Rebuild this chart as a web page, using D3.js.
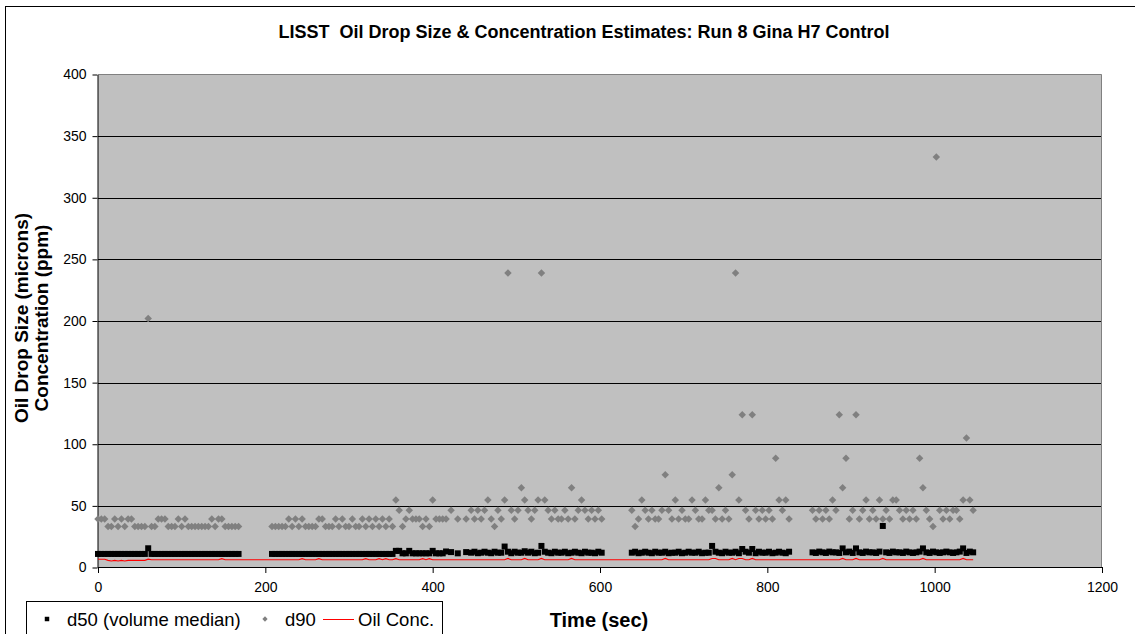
<!DOCTYPE html>
<html>
<head>
<meta charset="utf-8">
<script src="https://cdn.jsdelivr.net/npm/d3@7"></script>
<style>
  body { margin: 0; background: #fff; }
  svg { display: block; font-family: Arial, "Liberation Sans", sans-serif; }
</style>
</head>
<body>
<div id="chart"></div>
<script>
const TITLE = "LISST  Oil Drop Size & Concentration Estimates: Run 8 Gina H7 Control";
const Y_TITLE = ["Oil Drop Size (microns)", "Concentration (ppm)"];
const X_TITLE = "Time (sec)";
const SERIES = ["d50 (volume median)", "d90", "Oil Conc."];

const xTicks = [0, 200, 400, 600, 800, 1000, 1200];
const yTicks = [0, 50, 100, 150, 200, 250, 300, 350, 400];

// sample times (sec), four runs with gaps between them
const time = [
  0, 4, 8, 12, 16, 20, 24, 28, 32, 36, 40, 44, 48, 52, 56, 60, 64, 68, 72, 76, 80, 84,
  88, 92, 96, 100, 104, 108, 112, 116, 120, 124, 128, 132, 136, 140, 144, 148, 152, 156, 160, 164, 168,
  208, 212, 216, 220, 224, 228, 232, 236, 240, 244, 248, 252, 256, 260, 264, 268, 272, 276, 280, 284,
  288, 292, 296, 300, 304, 308, 312, 316, 320, 324, 328, 332, 336, 340, 344, 348, 352, 356, 360, 364,
  368, 372, 376, 380, 384, 388, 392, 396, 400, 404, 408, 412,
  416, 422, 430, 440,
  446, 450, 454, 458, 462, 466, 470, 474, 478, 482, 486, 490, 494, 498, 502, 506, 510, 514, 518, 522,
  526, 530, 534, 538, 542, 546, 550, 554, 558, 562, 566, 570, 574, 578, 582, 586, 590, 594, 598, 602,
  638, 642, 646, 650, 654, 658, 662, 666, 670, 674, 678, 682, 686, 690, 694, 698, 702, 706, 710, 714,
  718, 722, 726, 730, 734, 738, 742, 746, 750, 754, 758, 762, 766, 770, 774, 778, 782, 786, 790, 794,
  798, 802, 806, 810, 814, 818, 822, 826,
  854, 858, 862, 866, 870, 874, 878, 882, 886, 890, 894, 898, 902, 906, 910, 914, 918, 922, 926, 930,
  934, 938, 942, 946, 950, 954, 958, 962, 966, 970, 974, 978, 982, 986, 990, 994, 998, 1002, 1006, 1010,
  1014, 1018, 1022, 1026, 1030, 1034, 1038, 1042, 1046
];

const d50 = [
  11, 11, 11, 11, 11, 11, 11, 11, 11, 11, 11, 11, 11, 11, 11, 15.6, 11, 11, 11, 11, 11, 11,
  11, 11, 11, 11, 11, 11, 11, 11, 11, 11, 11, 11, 11, 11, 11, 11, 11, 11, 11, 11, 11,
  11, 11, 11, 11, 11, 11, 11, 11, 11, 11, 11, 11, 11, 11, 11, 11, 11, 11, 11, 11,
  11, 11, 11, 11, 11, 11, 11, 11, 11, 11, 11, 11, 11, 11, 11, 11, 11, 13.5, 13.5, 11.5,
  11.5, 13.5, 11.5, 11.5, 11.5, 11.5, 11.5, 11.5, 13.5, 11.5, 11.5, 11.5,
  13, 12.5, 11.5, 12.5,
  12, 12.8, 11.6, 12, 12.8, 12, 11.6, 12.8, 12, 12, 17, 12.8, 11.6, 12.8, 12, 12, 13.2, 12, 12.8, 11.6,
  12, 17.5, 12.8, 12, 11.6, 12.8, 12, 12, 12.8, 11.6, 12, 12.8, 12, 11.6, 12.8, 12, 12, 11.6, 12.8, 12,
  12, 12.8, 11.6, 12, 12.8, 12, 11.6, 12.8, 12, 12, 12.8, 11.6, 12, 12, 12.8, 11.6, 12, 12.8, 12, 12,
  12.8, 11.6, 12, 12, 17.5, 12.8, 12, 11.6, 12.8, 12, 12, 12.8, 11.6, 15, 12.8, 12, 15, 11.6, 12.8, 12,
  12, 12.8, 11.6, 12, 12.8, 12, 11.6, 12.8,
  12.3, 11.8, 12.9, 12.3, 11.8, 12.9, 12.3, 12.3, 11.8, 15.5, 12.3, 12.9, 11.8, 15.5, 12.3, 11.8, 12.9, 12.3, 12.3, 11.8,
  12.9, 33.7, 12.3, 11.8, 12.9, 12.3, 12.3, 11.8, 12.9, 12.3, 11.8, 12.3, 12.9, 15.5, 12.3, 11.8, 12.9, 12.3, 11.8, 12.3,
  12.9, 12.3, 11.8, 12.3, 12.9, 15.5, 11.8, 12.9, 12.3
];

const d90 = [
  39.3, 39.3, 39.3, 33.3, 33.3, 39.3, 33.3, 39.3, 33.3, 39.3, 39.3, 33.3, 33.3, 33.3, 33.3, 202, 33.3, 33.3, 39.3, 39.3, 39.3, 33.3,
  33.3, 33.3, 39.3, 33.3, 39.3, 33.3, 33.3, 33.3, 33.3, 33.3, 33.3, 33.3, 39.3, 33.3, 39.3, 39.3, 33.3, 33.3, 33.3, 33.3, 33.3,
  33.3, 33.3, 33.3, 33.3, 33.3, 39.3, 33.3, 39.3, 33.3, 39.3, 33.3, 33.3, 33.3, 33.3, 39.3, 39.3, 33.3, 33.3, 33.3, 39.3,
  33.3, 39.3, 33.3, 33.3, 39.3, 33.3, 33.3, 39.3, 33.3, 39.3, 33.3, 39.3, 33.3, 39.3, 33.3, 39.3, 33.3, 54.8, 46.4, 33.3,
  39.3, 46.4, 39.3, 39.3, 39.3, 33.3, 39.3, 33.3, 54.8, 39.3, 39.3, 39.3,
  39.3, 46.4, 39.3, 39.3,
  46.4, 39.3, 46.4, 39.3, 46.4, 54.8, 39.3, 33.3, 46.4, 39.3, 54.8, 239, 46.4, 39.3, 46.4, 64.7, 54.8, 46.4, 39.3, 46.4,
  54.8, 239, 54.8, 46.4, 39.3, 46.4, 39.3, 39.3, 46.4, 39.3, 64.7, 39.3, 46.4, 54.8, 46.4, 39.3, 46.4, 39.3, 46.4, 39.3,
  46.4, 33.3, 39.3, 54.8, 46.4, 39.3, 46.4, 39.3, 39.3, 46.4, 75.3, 46.4, 39.3, 54.8, 39.3, 46.4, 39.3, 39.3, 54.8, 46.4,
  39.3, 39.3, 54.8, 46.4, 46.4, 39.3, 64.7, 39.3, 46.4, 39.3, 75.3, 239, 54.8, 124, 46.4, 39.3, 124, 46.4, 39.3, 46.4,
  39.3, 46.4, 39.3, 88.6, 54.8, 46.4, 54.8, 39.3,
  46.4, 39.3, 46.4, 39.3, 46.4, 39.3, 54.8, 46.4, 124, 64.7, 88.6, 39.3, 46.4, 124, 39.3, 46.4, 54.8, 39.3, 46.4, 39.3,
  54.8, 39.3, 46.4, 39.3, 54.8, 54.8, 46.4, 39.3, 46.4, 39.3, 46.4, 39.3, 88.6, 64.7, 46.4, 39.3, 33.3, 333, 46.4, 39.3,
  46.4, 39.3, 46.4, 46.4, 39.3, 54.8, 105, 54.8, 46.4
];

const oil = [
  6.7, 6.7, 6.7, 5.8, 5.3, 5.8, 5.3, 5.8, 5.3, 5.8, 5.8, 5.8, 5.8, 5.8, 5.8, 6.8, 6.3, 6.3, 6.3, 6.3, 6.3, 6.3,
  6.3, 6.3, 6.3, 6.3, 6.3, 6.3, 6.3, 6.3, 6.3, 6.3, 6.3, 6.3, 6.3, 6.3, 6.3, 7.2, 6.3, 6.3, 6.3, 6.3, 6.3,
  6.3, 6.3, 6.3, 6.3, 6.3, 6.3, 6.3, 6.3, 6.3, 7.2, 6.3, 6.3, 6.3, 6.3, 7.2, 6.3, 6.3, 6.3, 6.3, 6.3,
  6.3, 6.3, 6.3, 6.3, 6.3, 6.3, 6.3, 6.3, 7.2, 6.3, 6.3, 6.3, 7.2, 6.3, 7.2, 6.3, 6.3, 7.2, 6.3, 6.3,
  6.3, 6.3, 6.3, 6.3, 6.3, 7.2, 6.3, 7.2, 6.3, 6.3, 6.3, 6.3,
  6.3, 6.3, 6.3, 6.3,
  6.3, 6.3, 6.3, 6.3, 6.3, 6.3, 6.3, 6.3, 6.3, 6.3, 6.3, 7.3, 6.3, 6.3, 6.3, 6.3, 7.3, 6.3, 6.3, 6.3,
  6.3, 7.3, 6.3, 6.3, 6.3, 6.3, 6.3, 6.3, 6.3, 6.3, 7.3, 6.3, 6.3, 6.3, 6.3, 6.3, 6.3, 6.3, 6.3, 6.3,
  6.3, 6.3, 6.3, 6.3, 6.3, 6.3, 6.3, 6.3, 6.3, 6.3, 7.3, 6.3, 6.3, 6.3, 6.3, 6.3, 6.3, 6.3, 6.3, 6.3,
  6.3, 6.3, 6.3, 6.3, 7.3, 7.3, 6.3, 6.3, 6.3, 6.3, 7.3, 6.3, 7.3, 7.3, 6.3, 6.3, 7.3, 6.3, 6.3, 6.3,
  6.3, 6.3, 6.3, 6.3, 6.3, 6.3, 6.3, 6.3,
  6.3, 6.3, 6.3, 6.3, 6.3, 6.3, 6.3, 6.3, 6.3, 7.3, 6.3, 6.3, 6.3, 7.3, 6.3, 6.3, 6.3, 6.3, 6.3, 6.3,
  6.3, 7.3, 6.3, 6.3, 6.3, 6.3, 6.3, 6.3, 6.3, 6.3, 6.3, 6.3, 6.3, 7.3, 6.3, 6.3, 6.3, 6.3, 6.3, 6.3,
  6.3, 6.3, 6.3, 6.3, 6.3, 7.3, 6.3, 6.3, 6.3
];

const WIDTH = 1135;
const HEIGHT = 634;
const PLOT = { LEFT: 98, RIGHT: 1102, TOP: 74.5, BOTTOM: 567.5 };
const FONT = "Arial, 'Liberation Sans', sans-serif";

const points = time.map((t, i) => ({ t: t, d50: d50[i], d90: d90[i], oil: oil[i] }));

const svg = d3.select("#chart")
  .append("svg")
  .attr("width", WIDTH)
  .attr("height", HEIGHT)
  .style("background-color", "white");

const x = d3.scaleLinear().domain([0, 1200]).range([PLOT.LEFT, PLOT.RIGHT]);
const y = d3.scaleLinear().domain([0, 400]).range([PLOT.BOTTOM, PLOT.TOP]);

// chart frame (runs off the bottom/right of the picture)
svg.append("rect")
  .attr("x", 5.5).attr("y", 6.5)
  .attr("width", 1160).attr("height", 660)
  .attr("fill", "white")
  .attr("stroke", "#000");

svg.append("text")
  .attr("x", 584)
  .attr("y", 38)
  .attr("text-anchor", "middle")
  .style("white-space", "pre")
  .style("font-family", FONT)
  .style("font-size", "18px")
  .style("font-weight", 700)
  .text(TITLE);

// plot area
svg.append("rect")
  .attr("x", PLOT.LEFT).attr("y", PLOT.TOP)
  .attr("width", PLOT.RIGHT - PLOT.LEFT)
  .attr("height", PLOT.BOTTOM - PLOT.TOP)
  .attr("fill", "#c0c0c0");

svg.append("g").selectAll("line")
  .data(yTicks.filter(v => v > 0 && v < 400))
  .join("line")
  .attr("x1", PLOT.LEFT).attr("x2", PLOT.RIGHT)
  .attr("y1", d => Math.round(y(d)) + 0.5)
  .attr("y2", d => Math.round(y(d)) + 0.5)
  .attr("stroke", "#000")
  .attr("stroke-width", 1);

svg.append("path")
  .attr("d", `M${PLOT.LEFT},${PLOT.TOP}H${PLOT.RIGHT - 0.5}V${PLOT.BOTTOM}`)
  .attr("fill", "none")
  .attr("stroke", "#808080");

// axes
const yAxis = svg.append("g")
  .attr("transform", `translate(${PLOT.LEFT - 0.5},0)`)
  .call(d3.axisLeft(y).tickValues(yTicks).tickSizeInner(5).tickSizeOuter(0).tickPadding(6));

const xAxis = svg.append("g")
  .attr("transform", `translate(0,${PLOT.BOTTOM - 0.5})`)
  .call(d3.axisBottom(x).tickValues(xTicks).tickFormat(d3.format("d"))
    .tickSizeInner(6).tickSizeOuter(0).tickPadding(9));

[yAxis, xAxis].forEach(g => {
  g.select(".domain").attr("stroke", "#000");
  g.selectAll(".tick line").attr("stroke", "#000");
  g.selectAll(".tick text")
    .attr("fill", "#000")
    .style("font-family", FONT)
    .style("font-size", "14px");
});

// series
const marks = svg.append("g");

marks.append("path")
  .datum(points)
  .attr("d", d3.line().x(d => x(d.t)).y(d => y(d.oil)))
  .attr("fill", "none")
  .attr("stroke", "#ff0000")
  .attr("stroke-width", 1.2);

marks.append("g").selectAll("path")
  .data(points)
  .join("path")
  .attr("transform", d => `translate(${x(d.t)},${y(d.d50)})`)
  .attr("d", d3.symbol(d3.symbolSquare, 36))
  .attr("fill", "#000");

marks.append("g").selectAll("path")
  .data(points)
  .join("path")
  .attr("transform", d => `translate(${x(d.t)},${y(d.d90)}) rotate(45)`)
  .attr("d", d3.symbol(d3.symbolSquare, 28))
  .attr("fill", "#808080");

// axis titles
const yTitle = svg.append("text")
  .attr("transform", "translate(0,318) rotate(-90)")
  .attr("text-anchor", "middle")
  .style("font-family", FONT)
  .style("font-size", "19px")
  .style("font-weight", 700);
yTitle.append("tspan").attr("x", 0).attr("y", 28).text(Y_TITLE[0]);
yTitle.append("tspan").attr("x", 0).attr("y", 48).text(Y_TITLE[1]);

svg.append("text")
  .attr("x", 599)
  .attr("y", 627)
  .attr("text-anchor", "middle")
  .style("font-family", FONT)
  .style("font-size", "20px")
  .style("font-weight", 700)
  .text(X_TITLE);

// legend
const legend = svg.append("g");
legend.append("rect")
  .attr("x", 26.5).attr("y", 601.5)
  .attr("width", 416).attr("height", 60)
  .attr("fill", "white")
  .attr("stroke", "#000");

legend.append("path")
  .attr("transform", "translate(47,619)")
  .attr("d", d3.symbol(d3.symbolSquare, 20))
  .attr("fill", "#000");
legend.append("path")
  .attr("transform", "translate(265,619) rotate(45)")
  .attr("d", d3.symbol(d3.symbolSquare, 14))
  .attr("fill", "#808080");
legend.append("line")
  .attr("x1", 323).attr("x2", 354)
  .attr("y1", 619.5).attr("y2", 619.5)
  .attr("stroke", "#ff0000");

legend.selectAll("text")
  .data([[67, SERIES[0]], [285, SERIES[1]], [358, SERIES[2]]])
  .join("text")
  .attr("x", d => d[0])
  .attr("y", 626)
  .style("font-family", FONT)
  .style("font-size", "18.5px")
  .text(d => d[1]);
</script>
</body>
</html>
